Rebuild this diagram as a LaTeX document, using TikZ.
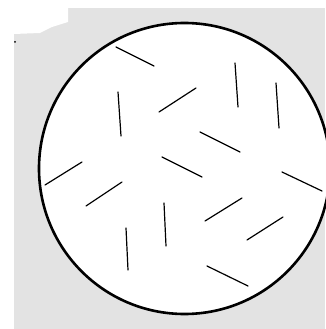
\documentclass[tikz,border=0pt]{standalone}
\usepackage{tikz}
\begin{document}
\begin{tikzpicture}[x=1pt,y=-1pt,needle/.style={line width=1.2pt,line cap=round}]
 \useasboundingbox (0,0) rectangle (325,329);
 \fill[black!11] (14,8) rectangle (325,329);
 \fill[white] (14,8) -- (68,8) -- (68,22) -- (52,27) -- (40,33) -- (14,34) -- cycle;
 \fill[black] (15,42) circle (1pt);
 \draw[line width=2.6pt,fill=white] (184.5,168.5) circle (145.5);
 \draw[needle] (116,47) -- (154,66);
 \draw[needle] (118,92) -- (121,136);
 \draw[needle] (159,112) -- (196,88);
 \draw[needle] (235,63) -- (238,107);
 \draw[needle] (276,83) -- (279,128);
 \draw[needle] (200,132) -- (240,152);
 \draw[needle] (162,157) -- (202,177);
 \draw[needle] (45,185) -- (82,162);
 \draw[needle] (86,206) -- (122,182);
 \draw[needle] (282,172) -- (322,191);
 \draw[needle] (164,203) -- (166,246);
 \draw[needle] (205,221) -- (242,198);
 \draw[needle] (247,240) -- (283,217);
 \draw[needle] (126,228) -- (128,270);
 \draw[needle] (207,266) -- (248,286);
\end{tikzpicture}
\end{document}
